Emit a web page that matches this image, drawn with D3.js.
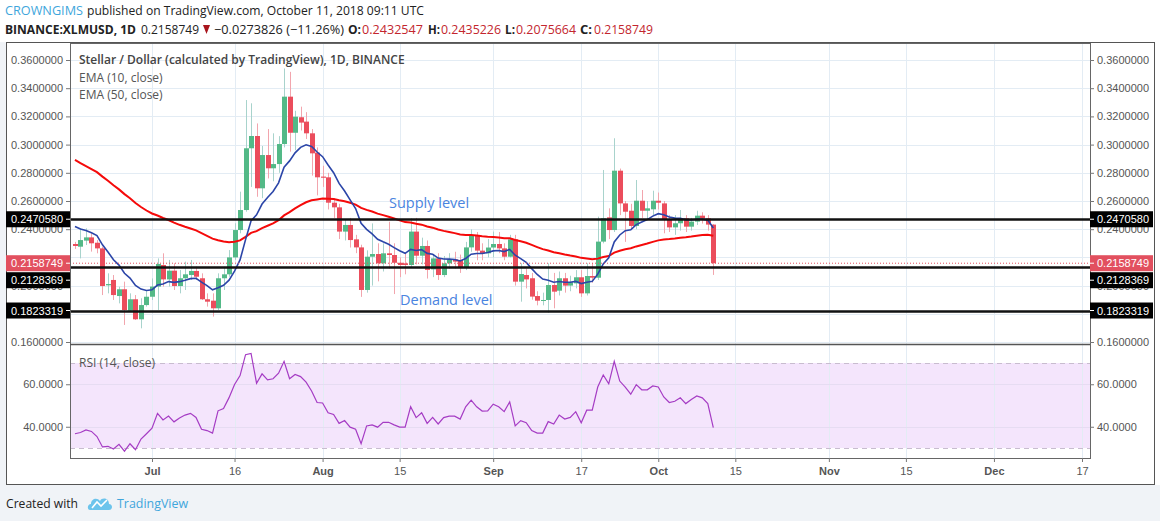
<!DOCTYPE html>
<html>
<head>
<meta charset="utf-8">
<script src="https://cdn.jsdelivr.net/npm/d3@7"></script>
<style>
body { margin: 0; background: #fff; }
svg { display: block; font-family: "Liberation Sans", Arial, sans-serif; }
</style>
</head>
<body>
<svg id="chart" width="1160" height="521"></svg>
<script>
// daily candles, first one is 2018-06-17 (UTC)
var firstDay = "2018-06-17";
var opens = [0.2295,0.2276,0.2319,0.2342,0.2304,0.2264,0.2002,0.2040,0.1926,0.1974,
  0.1822,0.1903,0.1761,0.1862,0.1921,0.1993,0.2146,0.2044,0.2106,0.1997,
  0.2052,0.2075,0.2104,0.2052,0.1903,0.1893,0.1839,0.2052,0.2080,0.2200,
  0.2394,0.2536,0.2974,0.3061,0.2690,0.2926,0.2832,0.2862,0.3004,0.3340,
  0.3084,0.3194,0.3163,0.3080,0.2943,0.2773,0.2768,0.2588,0.2555,0.2383,
  0.2430,0.2328,0.2271,0.1969,0.2205,0.2224,0.2158,0.2229,0.2217,0.2162,
  0.2158,0.2146,0.2383,0.2212,0.2281,0.2115,0.2193,0.2075,0.2158,0.2186,
  0.2182,0.2130,0.2271,0.2359,0.2248,0.2229,0.2270,0.2295,0.2264,0.2205,
  0.2328,0.2028,0.2075,0.2052,0.1926,0.1893,0.1898,0.2004,0.1964,0.2052,
  0.2000,0.2016,0.2059,0.1945,0.2068,0.2056,0.2312,0.2484,0.2394,0.2815,
  0.2583,0.2531,0.2423,0.2602,0.2531,0.2541,0.2602,0.2583,0.2470,0.2413,
  0.2442,0.2477,0.2418,0.2454,0.2496,0.2477,0.2432547];
var highs = [0.2310,0.2406,0.2406,0.2371,0.2323,0.2276,0.2087,0.2075,0.1992,0.2028,
  0.1945,0.1933,0.1910,0.1969,0.2051,0.2193,0.2229,0.2182,0.2158,0.2111,
  0.2170,0.2182,0.2134,0.2087,0.1945,0.1945,0.2087,0.2134,0.2252,0.2442,
  0.2666,0.3316,0.3293,0.3150,0.2990,0.3110,0.3080,0.3060,0.3540,0.3516,
  0.3240,0.3269,0.3230,0.3110,0.2980,0.2850,0.2800,0.2620,0.2580,0.2470,
  0.2480,0.2360,0.2290,0.2250,0.2441,0.2300,0.2300,0.2453,0.2300,0.2200,
  0.2230,0.2477,0.2480,0.2340,0.2320,0.2220,0.2230,0.2210,0.2230,0.2240,
  0.2220,0.2310,0.2399,0.2380,0.2300,0.2330,0.2383,0.2380,0.2300,0.2360,
  0.2360,0.2158,0.2120,0.2090,0.1960,0.1950,0.2158,0.2090,0.2100,0.2090,
  0.2070,0.2110,0.2110,0.2158,0.2160,0.2489,0.2820,0.2548,0.3045,0.2830,
  0.2600,0.2580,0.2749,0.2678,0.2600,0.2673,0.2660,0.2600,0.2500,0.2500,
  0.2536,0.2500,0.2480,0.2531,0.2520,0.2500,0.2435226];
var lows = [0.2260,0.2193,0.2288,0.2241,0.2229,0.1933,0.1945,0.1898,0.1874,0.1721,
  0.1815,0.1756,0.1697,0.1851,0.1898,0.1827,0.1993,0.1993,0.1969,0.1945,
  0.1969,0.2040,0.2040,0.1898,0.1851,0.1780,0.1827,0.1969,0.2063,0.2182,
  0.2371,0.2524,0.2700,0.2630,0.2620,0.2760,0.2740,0.2800,0.2980,0.2950,
  0.2960,0.3100,0.3040,0.2780,0.2640,0.2700,0.2540,0.2480,0.2330,0.2320,
  0.2270,0.2230,0.1920,0.1950,0.2000,0.2030,0.2100,0.2120,0.1940,0.2060,
  0.2080,0.2130,0.2150,0.2150,0.2050,0.2060,0.2040,0.2060,0.2120,0.2120,
  0.2090,0.2110,0.2240,0.2180,0.2180,0.2200,0.2200,0.2230,0.2180,0.2200,
  0.2000,0.1886,0.1980,0.1900,0.1860,0.1860,0.1808,0.1839,0.1930,0.1950,
  0.1960,0.1980,0.1920,0.1930,0.2020,0.2040,0.2300,0.2330,0.2380,0.2500,
  0.2310,0.2400,0.2400,0.2480,0.2470,0.2500,0.2540,0.2371,0.2380,0.2360,
  0.2390,0.2380,0.2390,0.2430,0.2440,0.2390,0.2075664];
var closes = [0.2281,0.2323,0.2342,0.2300,0.2264,0.1997,0.2011,0.1933,0.1974,0.1827,
  0.1903,0.1761,0.1862,0.1921,0.1993,0.2153,0.2044,0.2106,0.1997,0.2052,
  0.2080,0.2104,0.2063,0.1903,0.1886,0.1839,0.2052,0.2080,0.2200,0.2394,
  0.2536,0.2974,0.3061,0.2690,0.2926,0.2832,0.2862,0.3004,0.3340,0.3084,
  0.3198,0.3156,0.3080,0.2938,0.2768,0.2765,0.2588,0.2555,0.2383,0.2430,
  0.2323,0.2271,0.1969,0.2205,0.2224,0.2158,0.2229,0.2217,0.2162,0.2146,
  0.2146,0.2383,0.2212,0.2281,0.2111,0.2193,0.2075,0.2158,0.2186,0.2170,
  0.2130,0.2271,0.2359,0.2248,0.2229,0.2270,0.2295,0.2264,0.2205,0.2328,
  0.2028,0.2082,0.2044,0.1922,0.1893,0.1898,0.2004,0.1957,0.2052,0.2000,
  0.2024,0.2059,0.1945,0.2068,0.2056,0.2312,0.2477,0.2394,0.2815,0.2583,
  0.2524,0.2423,0.2602,0.2531,0.2548,0.2602,0.2588,0.2470,0.2413,0.2442,
  0.2477,0.2418,0.2454,0.2496,0.2477,0.2432547,0.2158749];
var rsiValues = [36.7,37.3,38.5,37.8,35.4,30.5,30.8,29.5,31.7,28.5,
  32.0,29.2,34.2,36.7,39.3,46.3,43.2,45.0,42.3,44.1,
  45.5,46.3,44.4,38.8,38.2,37.0,47.5,48.6,53.7,59.9,
  64.1,73.9,74.5,60.5,64.9,62.1,62.6,65.2,70.8,62.6,
  64.6,63.6,61.0,56.8,51.4,51.2,46.6,45.8,41.6,42.9,
  39.8,38.8,32.0,40.4,40.9,39.8,42.1,42.1,40.9,39.8,
  39.8,49.4,44.3,46.6,41.6,44.4,41.3,44.3,45.0,45.0,
  43.6,49.4,52.5,49.4,47.4,47.5,50.6,49.4,47.1,51.7,
  40.4,42.9,41.9,38.2,37.0,37.0,42.4,41.3,45.5,43.6,
  44.4,47.1,41.9,47.8,47.8,58.7,64.4,60.2,70.8,61.5,
  58.7,55.3,59.8,57.4,57.4,59.2,58.7,54.0,51.4,52.0,
  53.6,50.9,52.8,54.5,53.6,50.9,39.6];

// ema values on the day before the first candle
var ema10Seed = 0.2450;
var ema50Seed = 0.2916;

var priceTicks = [0.36,0.34,0.32,0.30,0.28,0.26,0.24,0.22,0.20,0.18,0.16];
var priceLabelTicks = [0.36,0.34,0.32,0.30,0.28,0.26,0.24,0.20,0.16];
var levels = [0.2470580, 0.2128369, 0.1823319];
var lastPrice = 0.2158749;
var rsiTicks = [60, 40];
var rsiBand = [70, 30];
var timeTicks = ["2018-07-01","2018-07-16","2018-08-01","2018-08-15","2018-09-01","2018-09-17",
  "2018-10-01","2018-10-15","2018-11-01","2018-11-15","2018-12-01","2018-12-17"];
var timeLabels = ["Jul","16","Aug","15","Sep","17","Oct","15","Nov","15","Dec","17"];

var parse = d3.utcParse("%Y-%m-%d");
var start = parse(firstDay);
var data = closes.map(function(c, i) {
  return {date: d3.utcDay.offset(start, i), o: opens[i], h: highs[i], l: lows[i], c: c, rsi: rsiValues[i]};
});

// ema(10) and ema(50) of close
function ema(seed, n) {
  var k = 2 / (n + 1), v = seed;
  return data.map(function(d) { v = v + k * (d.c - v); return v; });
}
var ema10 = ema(ema10Seed, 10);
var ema50 = ema(ema50Seed, 50);

var svg = d3.select("#chart");
var left = 70, right = 1090;
var priceTop = 43, priceBottom = 344, rsiBottom = 458;

var x = d3.scaleUtc().domain([parse("2018-07-01"), parse("2018-12-17")]).range([152, 1082]);
var y = d3.scaleLinear().domain([0.16, 0.36]).range([342, 60]);
var yr = d3.scaleLinear().domain([30, 70]).range([448, 363]);

// backgrounds
svg.append("rect").attr("width", 1160).attr("height", 521).attr("fill", "#fff");
svg.append("rect").attr("x", 0).attr("y", 485).attr("width", 1160).attr("height", 36).attr("fill", "#f0f3f7");
svg.append("rect").attr("x", 0).attr("y", 42).attr("width", 6).attr("height", 443).attr("fill", "#f0f3f7");

svg.append("defs").append("clipPath").attr("id", "plot")
  .append("rect").attr("x", left).attr("y", priceTop).attr("width", right - left).attr("height", rsiBottom - priceTop);

var plot = svg.append("g").attr("clip-path", "url(#plot)");

// rsi band
plot.append("rect").attr("x", left).attr("width", right - left)
  .attr("y", yr(rsiBand[0])).attr("height", yr(rsiBand[1]) - yr(rsiBand[0]))
  .attr("fill", "#f4e5fc");

// grid
plot.selectAll(".vgrid").data(timeTicks).enter().append("line")
  .attr("x1", function(d) { return Math.round(x(parse(d))) + 0.5; })
  .attr("x2", function(d) { return Math.round(x(parse(d))) + 0.5; })
  .attr("y1", priceTop).attr("y2", rsiBottom)
  .attr("stroke", "#e3ecf4");
plot.selectAll(".hgrid").data(priceTicks).enter().append("line")
  .attr("x1", left).attr("x2", right)
  .attr("y1", function(d) { return Math.round(y(d)) + 0.5; })
  .attr("y2", function(d) { return Math.round(y(d)) + 0.5; })
  .attr("stroke", "#e3ecf4");
plot.selectAll(".rgrid").data(rsiTicks).enter().append("line")
  .attr("x1", left).attr("x2", right)
  .attr("y1", function(d) { return Math.round(yr(d)) + 0.5; })
  .attr("y2", function(d) { return Math.round(yr(d)) + 0.5; })
  .attr("stroke", "#e6dcf2");
plot.selectAll(".band").data(rsiBand).enter().append("line")
  .attr("x1", left).attr("x2", right)
  .attr("y1", function(d) { return Math.round(yr(d)) + 0.5; })
  .attr("y2", function(d) { return Math.round(yr(d)) + 0.5; })
  .attr("stroke", "#c8bccf").attr("stroke-dasharray", "5,4");

// candles
var candles = plot.append("g");
candles.selectAll("line").data(data).enter().append("line")
  .attr("x1", function(d) { return Math.round(x(d.date)) + 0.5; })
  .attr("x2", function(d) { return Math.round(x(d.date)) + 0.5; })
  .attr("y1", function(d) { return y(d.h); })
  .attr("y2", function(d) { return y(d.l); })
  .attr("stroke", function(d) { return d.c >= d.o ? "#a8d3cc" : "#f2a5ad"; });
candles.selectAll("rect").data(data).enter().append("rect")
  .attr("x", function(d) { return Math.round(x(d.date)) - 2; })
  .attr("width", 5)
  .attr("y", function(d) { return y(Math.max(d.o, d.c)); })
  .attr("height", function(d) { return Math.max(1, Math.abs(y(d.o) - y(d.c))); })
  .attr("fill", function(d) { return d.c >= d.o ? "#53b987" : "#eb4d5c"; });

// emas
var line = d3.line().x(function(d, i) { return x(data[i].date); }).y(function(d) { return y(d); });
plot.append("path").datum(ema50).attr("d", line).attr("fill", "none").attr("stroke", "#f50a0a").attr("stroke-width", 2);
plot.append("path").datum(ema10).attr("d", line).attr("fill", "none").attr("stroke", "#2b45a8").attr("stroke-width", 1.6);

// levels
plot.append("line").attr("x1", left).attr("x2", right)
  .attr("y1", y(lastPrice)).attr("y2", y(lastPrice))
  .attr("stroke", "#e2505f").attr("stroke-dasharray", "1,2");
plot.selectAll(".level").data(levels).enter().append("line")
  .attr("x1", left).attr("x2", right)
  .attr("y1", function(d) { return Math.round(y(d)) + 0.5; })
  .attr("y2", function(d) { return Math.round(y(d)) + 0.5; })
  .attr("stroke", "#111").attr("stroke-width", 2.4);

// rsi line
var rline = d3.line().x(function(d) { return x(d.date); }).y(function(d) { return yr(d.rsi); });
plot.append("path").datum(data).attr("d", rline).attr("fill", "none").attr("stroke", "#a53cc4").attr("stroke-width", 1.2);

// pane frames
svg.append("rect").attr("x", left + 0.5).attr("y", priceTop + 0.5).attr("width", right - left).attr("height", rsiBottom - priceTop)
  .attr("fill", "none").attr("stroke", "#666");
svg.append("line").attr("x1", left).attr("x2", right).attr("y1", priceBottom + 0.5).attr("y2", priceBottom + 0.5)
  .attr("stroke", "#555").attr("stroke-width", 1.5);
svg.append("rect").attr("x", 6.5).attr("y", 42.5).attr("width", 1148).attr("height", 442)
  .attr("fill", "none").attr("stroke", "#555");

// axes
function styleAxis(g) {
  g.select(".domain").remove();
  g.selectAll("line").attr("stroke", "#777");
  g.selectAll("text").attr("fill", "#555").style("font-size", "11px");
}
var fmt = d3.format(".7f");
svg.append("g").attr("transform", "translate(" + left + ",0)")
  .call(d3.axisLeft(y).tickValues(priceLabelTicks).tickFormat(fmt).tickSize(4).tickPadding(3)).call(styleAxis);
svg.append("g").attr("transform", "translate(" + right + ",0)")
  .call(d3.axisRight(y).tickValues(priceLabelTicks).tickFormat(fmt).tickSize(4).tickPadding(3)).call(styleAxis);
var fmtR = d3.format(".4f");
svg.append("g").attr("transform", "translate(" + left + ",0)")
  .call(d3.axisLeft(yr).tickValues(rsiTicks).tickFormat(fmtR).tickSize(4).tickPadding(3)).call(styleAxis);
svg.append("g").attr("transform", "translate(" + right + ",0)")
  .call(d3.axisRight(yr).tickValues(rsiTicks).tickFormat(fmtR).tickSize(4).tickPadding(3)).call(styleAxis);
var tAxis = svg.append("g").attr("transform", "translate(0," + rsiBottom + ")")
  .call(d3.axisBottom(x).tickValues(timeTicks.map(parse)).tickFormat(function(d, i) { return timeLabels[i]; }).tickSize(4).tickPadding(5))
  .call(styleAxis);
tAxis.selectAll("text").style("font-weight", function(d, i) { return isNaN(+timeLabels[i]) ? "bold" : "normal"; });

// price boxes on both scales
var redY = y(lastPrice);
var boxes = levels.map(function(v) {
  var yy = y(v);
  if (Math.abs(yy - redY) < 16) yy = redY + 17;
  return {v: v, y: yy, fill: "#000"};
});
boxes.push({v: lastPrice, y: redY, fill: "#e2505f"});
[[6, left], [right, 1153]].forEach(function(side) {
  var g = svg.append("g");
  g.selectAll("rect").data(boxes).enter().append("rect")
    .attr("x", side[0]).attr("width", side[1] - side[0])
    .attr("y", function(d) { return d.y - 8; }).attr("height", 16)
    .attr("fill", function(d) { return d.fill; });
  g.selectAll("text").data(boxes).enter().append("text")
    .attr("x", side[0] === 6 ? left - 7 : right + 7)
    .attr("y", function(d) { return d.y + 4; })
    .attr("text-anchor", side[0] === 6 ? "end" : "start")
    .attr("fill", "#fff").style("font-size", "11px")
    .text(function(d) { return fmt(d.v); });
  g.selectAll("line").data(boxes).enter().append("line")
    .attr("x1", side[0] === 6 ? left - 4 : right).attr("x2", side[0] === 6 ? left : right + 4)
    .attr("y1", function(d) { return d.y; }).attr("y2", function(d) { return d.y; })
    .attr("stroke", "#fff");
});

// legends
var legend = svg.append("g").style("font-family", "'Open Sans', sans-serif").style("font-size", "12px");
legend.append("text").attr("x", 79).attr("y", 64).attr("fill", "#444").style("font-weight", "600")
  .text("Stellar / Dollar (calculated by TradingView), 1D, BINANCE");
legend.append("text").attr("x", 79).attr("y", 82).attr("fill", "#555").text("EMA (10, close)");
legend.append("text").attr("x", 79).attr("y", 99).attr("fill", "#555").text("EMA (50, close)");
legend.append("text").attr("x", 79).attr("y", 367).attr("fill", "#555").style("font-size", "12px").text("RSI (14, close)");

svg.append("text").attr("x", 389).attr("y", 208).attr("fill", "#4a84e0")
  .style("font-family", "'Open Sans', sans-serif").style("font-size", "14.5px").text("Supply level");
svg.append("text").attr("x", 400).attr("y", 305).attr("fill", "#4a84e0")
  .style("font-family", "'Open Sans', sans-serif").style("font-size", "14.5px").text("Demand level");

// header, one text per piece so each can be fitted to its width
var header = [
  ["CROWNGIMS", 5, 15, 78, "#3ea6dc", "normal"],
  ["published on TradingView.com, October 11, 2018 09:11 UTC", 87, 15, 337, "#222", "normal"],
  ["BINANCE:XLMUSD, 1D", 5, 34, 131, "#222", "bold"],
  ["0.2158749", 141, 34, 58, "#222", "normal"],
  ["−0.0273826 (−11.26%)", 214, 34, 130, "#222", "normal"],
  ["O:", 348, 34, 13, "#222", "bold"],
  ["0.2432547", 362, 34, 61, "#c3262e", "normal"],
  ["H:", 428, 34, 12, "#222", "bold"],
  ["0.2435226", 441, 34, 60, "#c3262e", "normal"],
  ["L:", 505, 34, 10, "#222", "bold"],
  ["0.2075664", 516, 34, 60, "#c3262e", "normal"],
  ["C:", 580, 34, 12, "#222", "bold"],
  ["0.2158749", 594, 34, 59, "#c3262e", "normal"]
];
svg.append("g").style("font-family", "'Open Sans', sans-serif").style("font-size", "12.5px")
  .selectAll("text").data(header).enter().append("text")
  .attr("x", function(d) { return d[1]; }).attr("y", function(d) { return d[2]; })
  .attr("textLength", function(d) { return d[3]; }).attr("lengthAdjust", "spacingAndGlyphs")
  .attr("fill", function(d) { return d[4]; }).style("font-weight", function(d) { return d[5]; })
  .text(function(d) { return d[0]; });
svg.append("path").attr("d", "M203,25 L210,25 L206.5,34 Z").attr("fill", "#a8141c");

// footer
svg.append("text").attr("x", 6).attr("y", 508).attr("fill", "#222")
  .style("font-family", "'Open Sans', sans-serif").style("font-size", "13px")
  .attr("textLength", 72).attr("lengthAdjust", "spacingAndGlyphs").text("Created with");
var logo = svg.append("g").attr("transform", "translate(88,496)");
logo.append("path").attr("d", "M2,14 C-1,14 -1,8 3,8 C3,3 9,1 12,5 C14,1 21,2 21,8 C25,8 25,14 21,14 Z").attr("fill", "#6cc4ec");
logo.append("path").attr("d", "M4,12 L9,6 L13,10 L19,4").attr("fill", "none").attr("stroke", "#fff").attr("stroke-width", 1.6);
svg.append("text").attr("x", 117).attr("y", 508).attr("fill", "#3fa6dc")
  .style("font-family", "'Open Sans', sans-serif").style("font-size", "13px")
  .attr("textLength", 71).attr("lengthAdjust", "spacingAndGlyphs").text("TradingView");
</script>
</body>
</html>
